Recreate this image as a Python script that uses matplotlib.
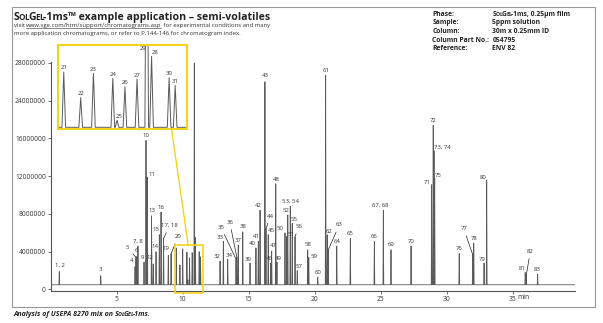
import numpy as np
import matplotlib
matplotlib.use('Agg')
import matplotlib.pyplot as plt
from matplotlib.patches import Rectangle, ConnectionPatch
from matplotlib.lines import Line2D

plt.rcParams['font.family'] = ['Open Sans', 'DejaVu Sans']

# peaks: label, retention time (min), height (counts)
peak_ids = ['1, 2', '3', '4', '5', '6', '7, 8', '9', '10', '11', '13', '12', '14', '15', '16',
            '17, 18', '19', '20', '21', '22', '23', '24', '25', '26', '27', '29', '28', '30', '31',
            '32', '33', '34', '35', '36', '37', '38', '39', '40', '41', '42', '43', '44', '45',
            '46', '47', '48', '49', '50', '51', '52', '53, 54', '55', '56', '57', '58', '59', '60',
            '61', '62', '63', '64', '65', '66', '67, 68', '69', '70', '71', '72', '73, 74', '75',
            '76', '77', '78', '79', '80', '81', '82', '83']
peak_times = [0.65, 3.79, 6.39, 6.46, 6.53, 6.61, 7.07, 7.22, 7.32, 7.64, 7.77, 7.98, 8.23, 8.36,
              8.55, 8.91, 9.12, 9.51, 9.79, 10.00, 10.32, 10.39, 10.52, 10.72, 10.88, 10.96, 11.25, 11.35,
              12.83, 13.08, 13.41, 14.04, 14.10, 14.21, 14.55, 15.10, 15.55, 15.73, 15.86, 16.23, 16.31, 16.48,
              16.66, 16.74, 17.05, 17.14, 17.75, 17.88, 17.96, 18.15, 18.30, 18.51, 18.68, 19.47, 19.55, 20.23,
              20.83, 20.95, 21.03, 21.67, 22.70, 24.52, 25.20, 25.78, 27.30, 28.86, 28.98, 29.04, 29.09,
              30.95, 31.97, 32.05, 32.83, 33.03, 35.95, 36.03, 36.89]
peak_heights = [1.9e6, 1.45e6, 2.4e6, 3.4e6, 3.5e6, 4.6e6, 2.9e6, 15.8e6, 11.9e6, 7.8e6, 2.7e6, 4.0e6, 5.8e6, 8.2e6,
                5.4e6, 3.6e6, 3.8e6, 4.4e6, 2.6e6, 4.3e6, 3.95e6, 1.0e6, 3.35e6, 3.9e6, 24.0e6, 5.5e6, 4.0e6, 3.45e6,
                3.0e6, 5.1e6, 3.2e6, 3.2e6, 3.4e6, 4.7e6, 6.1e6, 2.8e6, 4.4e6, 5.1e6, 8.4e6, 22.0e6, 6.4e6, 5.8e6,
                2.8e6, 4.0e6, 11.2e6, 2.9e6, 6.0e6, 5.6e6, 7.9e6, 8.8e6, 7.0e6, 5.6e6, 2.0e6, 4.2e6, 3.4e6, 1.3e6,
                22.7e6, 5.8e6, 4.2e6, 4.6e6, 5.4e6, 5.1e6, 8.4e6, 4.2e6, 4.6e6, 11.1e6, 17.4e6, 14.7e6, 11.8e6,
                3.8e6, 3.7e6, 4.9e6, 2.8e6, 11.6e6, 1.8e6, 1.5e6, 1.6e6]
baseline = 0.5e6
inset_ids = ['21', '22', '23', '24', '25', '26', '27', '29', '28', '30', '31']

y_ticks = [0, 4e6, 8e6, 12e6, 16e6, 20e6, 24e6]
y_ticklabels = ['0', '4000000', '8000000', '12000000', '16000000', '24000000', '28000000']
x_ticks = [5, 10, 15, 20, 25, 30, 35]

phase_rows = [('Phase:', None), ('Sample:', '5ppm solution'), ('Column:', '30m x 0.25mm ID'),
              ('Column Part No.:', '054795'), ('Reference:', 'ENV 82')]

W, H = 603, 323
fig = plt.figure(figsize=(W / 100, H / 100), dpi=100)
renderer = fig.canvas.get_renderer()
yellow = '#f2d41e'
grey = '#5a5a5a'


def fx(px):
    return px / W


def fy(py):
    return 1 - py / H


def advance(s, sz, **kw):
    # width of s measured against a trailing bar, so spacing and spaces count
    a = fig.text(0, 0, s + '|', fontsize=sz, **kw)
    b = fig.text(0, 0, '|', fontsize=sz, **kw)
    wd = a.get_window_extent(renderer).width - b.get_window_extent(renderer).width
    a.remove()
    b.remove()
    return wd


def run(x, y, parts, track=0.0, **kw):
    # lay text pieces side by side on one baseline, x/y in pixels from top-left
    for s, sz in parts:
        fig.text(fx(x), fy(y), s, fontsize=sz, va='baseline', ha='left', **kw)
        x += advance(s, sz, **kw) + track
    return x


def solgel(big, small):
    return [('S', big), ('O', small), ('L', small), ('G', big), ('E', small), ('L', small)]


# trace built from the peak table: narrow spikes on a flat baseline
w = 0.03
tx, ty = [0.0], [baseline]
for t, h in zip(peak_times, peak_heights):
    tx += [t - w, t, t + w]
    ty += [baseline, h, baseline]
tx.append(39.7)
ty.append(baseline)

ax = fig.add_axes([fx(50.7), fy(290.7), fx(575 - 50.7), (290.7 - 62) / H])
ax.plot(tx, ty, color=grey, lw=0.6)
ax.set_xlim(0, 39.72)
ax.set_ylim(-0.13e6, 24.1e6)
for s in ['top', 'right']:
    ax.spines[s].set_visible(False)
for s in ['left', 'bottom']:
    ax.spines[s].set_color('#555555')
    ax.spines[s].set_linewidth(0.8)
ax.set_yticks(y_ticks)
ax.set_yticklabels(y_ticklabels)
ax.set_xticks(x_ticks)
ax.set_xticklabels([str(v) for v in x_ticks])
ax.tick_params(length=2, width=0.6, color='#555555', labelsize=4.8, labelcolor='#333333', pad=1.5)
ax.annotate('min', xy=(35, 0), xycoords=('data', 'axes fraction'), xytext=(5, -6.5),
            textcoords='offset pixels', fontsize=4.8, color='#333333', ha='left', va='center',
            annotation_clip=False)

# label layout in pixels: (dx, dy, leader line)
main_offsets = {
    '1, 2': (1, 6, False), '3': (0, 6, False), '4': (-3, 6, False), '5': (-9, 10, True),
    '6': (-1, 6, False), '9': (-1.5, 5, False), '11': (5, 3, False), '12': (-3, 6, False),
    '14': (-1, 5, False), '15': (-3, 5, False), '17, 18': (6, 13, True), '19': (-2, 7, False),
    '20': (7, 17, True), '32': (-3, 5, False), '33': (-3, 4, False), '34': (1, 4, False),
    '35': (-15, 32, True), '36': (-7, 35, True), '39': (-2, 4, False), '40': (-4, 4, False),
    '41': (-2, 5, False), '42': (-2, 5, False), '43': (0, 6, False), '44': (4, 13, True),
    '45': (3, 4, False), '46': (-1, 5, False), '47': (2, 6, True), '48': (0, 4, False),
    '49': (1, 4, False), '50': (-5, 4, False), '51': (4, 2, False), '52': (-2, 4, False),
    '55': (2, 4, False), '56': (4, 10, True), '57': (2, 4, False), '59': (5, 1, False),
    '62': (2, 3, False), '63': (11, 25, True), '67, 68': (-3, 5, False), '71': (-4, 2, False),
    '73, 74': (8, 3, False), '75': (3, 3, False), '77': (-9, 26, True), '79': (-2, 4, False),
    '80': (-4, 2, False), '81': (-3, 4, False), '82': (4, 24, True),
}
for lab, t, h in zip(peak_ids, peak_times, peak_heights):
    if lab in inset_ids:
        continue
    dx, dy, lead = main_offsets.get(lab, (0, 5, False))
    ap = dict(arrowstyle='-', lw=0.5, color='#222222', shrinkA=1.5, shrinkB=0) if lead else None
    ax.annotate(lab, xy=(t, h), xytext=(dx, dy), textcoords='offset pixels', fontsize=4.3,
                color='#333333', ha='center', va='center', arrowprops=ap, annotation_clip=False)

# zoom box on the main chart
ax.add_patch(Rectangle((9.42, -0.37e6), 2.14, 5.07e6, fill=False, ec=yellow, lw=1.2, clip_on=False, zorder=5))

# inset
axi = fig.add_axes([fx(58.3), fy(129.3), fx(129), 84.3 / H])
axi.plot(tx, ty, color=grey, lw=0.7)
axi.set_xlim(9.42, 11.55)
axi.set_ylim(0.36e6, 6.3e6)
axi.set_xticks([])
axi.set_yticks([])
for s in axi.spines.values():
    s.set_color(yellow)
    s.set_linewidth(1.5)
inset_offsets = {'25': (2.5, 4), '28': (3.5, 3.5)}
for lab, t, h in zip(peak_ids, peak_times, peak_heights):
    if lab not in inset_ids:
        continue
    if lab == '29':
        axi.annotate(lab, xy=(t, 1), xycoords=('data', 'axes fraction'), xytext=(-4, -4),
                     textcoords='offset pixels', fontsize=4.3, color='#333333', ha='center', va='center')
        continue
    dx, dy = inset_offsets.get(lab, (0, 4))
    axi.annotate(lab, xy=(t, h), xytext=(dx, dy), textcoords='offset pixels', fontsize=4.3,
                 color='#333333', ha='center', va='center')

con = ConnectionPatch(xyA=(11.29, 0.36e6), coordsA=axi.transData, xyB=(10.42, 4.7e6), coordsB=ax.transData,
                      color=yellow, lw=1.0)
fig.add_artist(con)

# outer frame
fig.add_artist(Rectangle((fx(11.7), fy(306.7)), fx(595 - 11.7), (306.7 - 7.3) / H, transform=fig.transFigure,
                         fill=False, ec='#999999', lw=0.8))

# header text
xt = run(13.5, 20.3, solgel(7.6, 5.9), track=-0.7, fontweight='bold', color='#222222')
run(xt, 20.3, [('-1ms™ example application – semi-volatiles', 7.6)], fontweight='bold', color='#222222')
x0 = run(13.5, 27.3, [('visit ', 4.3)], color='#333333')
x1 = run(x0, 27.3, [('www.sge.com/htm/support/chromatograms.asp', 4.3)], color='#333333')
fig.add_artist(Line2D([fx(x0), fx(x1 - 0.5)], [fy(28.2), fy(28.2)], transform=fig.transFigure,
                      color='#333333', lw=0.4))
run(x1, 27.3, [(' for experimental conditions and many', 4.3)], color='#333333')
run(13.5, 34.8, [('more application chromatograms, or refer to P.144-146 for chromatogram index.', 4.3)],
    color='#333333')

row_y = [16, 24.5, 33, 41.5, 50]
for (lab, val), yy in zip(phase_rows, row_y):
    run(432.3, yy, [(lab, 4.9)], fontweight='bold', color='#222222')
    if val is None:
        xv = run(492.3, yy, solgel(4.9, 3.8), track=-0.5, fontweight='bold', color='#222222')
        run(xv, yy, [('-1ms, 0.25µm film', 4.9)], fontweight='bold', color='#222222')
    else:
        run(492.3, yy, [(val, 4.9)], fontweight='bold', color='#222222')

# caption
xc = run(13, 316.5, [('Analysis of USEPA 8270 mix on ', 5.0)], fontweight='bold', fontstyle='italic',
         color='#222222')
xc = run(xc, 316.5, solgel(5.0, 3.9), track=-0.5, fontweight='bold', fontstyle='italic', color='#222222')
run(xc, 316.5, [('-1ms.', 5.0)], fontweight='bold', fontstyle='italic', color='#222222')

fig.savefig('out.png', dpi=100)
